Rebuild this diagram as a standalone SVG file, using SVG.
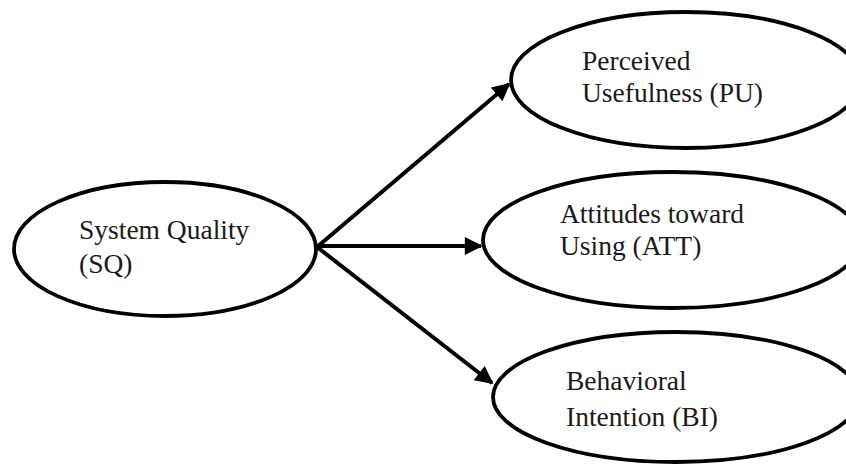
<svg xmlns="http://www.w3.org/2000/svg" width="846" height="467" viewBox="0 0 846 467">
  <style>
    .node ellipse { fill: #ffffff; stroke: #000000; stroke-width: 3.8; }
    .node text { font-family: "Liberation Serif", "Times New Roman", serif; font-size: 27.5px; fill: #1a1a1a; }
    .edge { stroke: #000000; stroke-width: 4; fill: none; marker-end: url(#arrow); }
  </style>
  <defs>
    <marker id="arrow" viewBox="0 0 10 10" refX="9" refY="5" markerWidth="5.5" markerHeight="4.5" markerUnits="strokeWidth" orient="auto">
      <path d="M0,0 L10,5 L0,10 z" fill="#000000"/>
    </marker>
  </defs>
  <rect x="0" y="0" width="846" height="467" fill="#ffffff"/>

  <!-- connectors -->
  <g id="connectors">
    <line class="edge" x1="317" y1="247" x2="509" y2="84"/>
    <line class="edge" x1="317" y1="246" x2="481" y2="246"/>
    <line class="edge" x1="317" y1="247" x2="492" y2="383"/>
  </g>

  <!-- constructs -->
  <g id="node-sq" class="node">
    <ellipse cx="165" cy="249" rx="151" ry="67"/>
    <text x="79" y="239">System Quality</text>
    <text x="79" y="273">(SQ)</text>
  </g>
  <g id="node-pu" class="node">
    <ellipse cx="686" cy="80" rx="175" ry="68"/>
    <text x="582" y="70">Perceived</text>
    <text x="582" y="102">Usefulness (PU)</text>
  </g>
  <g id="node-att" class="node">
    <ellipse cx="672" cy="240" rx="189" ry="68"/>
    <text x="560" y="223">Attitudes toward</text>
    <text x="560" y="255">Using (ATT)</text>
  </g>
  <g id="node-bi" class="node">
    <ellipse cx="676" cy="397" rx="183" ry="65"/>
    <text x="566" y="390">Behavioral</text>
    <text x="566" y="426">Intention (BI)</text>
  </g>
</svg>
